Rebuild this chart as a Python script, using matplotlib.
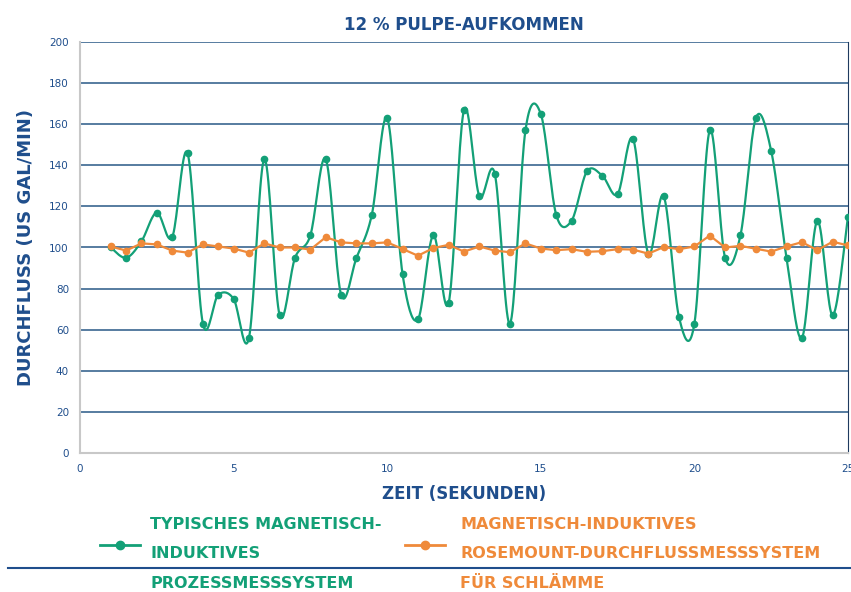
import numpy as np
import matplotlib.pyplot as plt
from matplotlib.lines import Line2D

plt.rcParams['font.family'] = ['DejaVu Sans']

# === Daten ===
zeit = np.arange(1, 25.5, 0.5)

typisch = [100, 95, 103, 117, 105, 146, 63, 77, 75, 56, 143, 67, 95, 106, 143, 77, 95,
           116, 163, 87, 65, 106, 73, 167, 125, 136, 63, 157, 165, 116, 113, 137,
           135, 126, 153, 97, 125, 66, 63, 157, 95, 106, 163, 147, 95, 56, 113, 67, 115]

rosemount = [100.5, 98.5, 102, 101.5, 98.5, 97.5, 101.5, 100.5, 99.5, 97.5, 102, 100, 100,
             99, 105, 102.5, 102, 102, 102.5, 99.3, 96, 99.7, 101.3, 98, 100.5, 98.5, 97.7,
             102, 99.5, 98.7, 99.2, 97.9, 98.2, 99.2, 99, 97, 100.2, 99.2, 100.5, 105.8,
             100, 100.8, 99.4, 98, 100.5, 102.6, 98.7, 102.8, 101]

gruen = '#13a077'
orange = '#ef8a3a'
blau = '#1f4e8c'


def glatt(x, y, n=20):
    # Bezier-Glaettung wie bei Excel (Catmull-Rom)
    x = np.asarray(x, float)
    y = np.asarray(y, float)
    xs, ys = [], []
    for i in range(len(x) - 1):
        p0 = np.array([x[max(i - 1, 0)], y[max(i - 1, 0)]])
        p1 = np.array([x[i], y[i]])
        p2 = np.array([x[i + 1], y[i + 1]])
        p3 = np.array([x[min(i + 2, len(x) - 1)], y[min(i + 2, len(x) - 1)]])
        c1 = p1 + (p2 - p0) / 6
        c2 = p2 - (p3 - p1) / 6
        t = np.linspace(0, 1, n)[:, None]
        b = (1 - t) ** 3 * p1 + 3 * (1 - t) ** 2 * t * c1 + 3 * (1 - t) * t ** 2 * c2 + t ** 3 * p2
        xs.extend(b[:, 0])
        ys.extend(b[:, 1])
    return xs, ys


fig = plt.figure(figsize=(8.51, 5.92), dpi=100)
ax = fig.add_axes([80 / 851, 1 - 453 / 592, 768 / 851, 411 / 592])

for v in range(20, 201, 20):
    ax.axhline(v, color='#3a6690', lw=1.2, zorder=1)

gx, gy = glatt(zeit, typisch)
ax.plot(gx, gy, color=gruen, lw=1.6, zorder=3)
ax.plot(zeit, typisch, 'o', color=gruen, ms=4.5, zorder=4)
ax.plot(zeit, rosemount, '-o', color=orange, lw=1.6, ms=4.5, zorder=5)

ax.set_xlim(0, 25)
ax.set_ylim(0, 200)
ax.set_xticks(range(0, 26, 5))
ax.set_yticks(range(0, 201, 20))
ax.tick_params(length=0, labelsize=7.5, labelcolor=blau, pad=8)
ax.spines['top'].set_visible(False)
ax.spines['left'].set_color('#c8c8c8')
ax.spines['left'].set_linewidth(1.5)
ax.spines['bottom'].set_color('#c8c8c8')
ax.spines['bottom'].set_linewidth(1.5)
ax.spines['right'].set_color('#1f3a5f')

ax.set_title('12 % PULPE-AUFKOMMEN', fontsize=12, fontweight='bold', color=blau, pad=9)
ax.set_xlabel('ZEIT (SEKUNDEN)', fontsize=12, fontweight='bold', color=blau, labelpad=8)
ax.set_ylabel('DURCHFLUSS (US GAL/MIN)', fontsize=13, fontweight='bold', color=blau, labelpad=10)

# === Legende ===
fig.add_artist(Line2D([100 / 851, 120 / 851, 140 / 851], [1 - 545 / 592] * 3, color=gruen, lw=2,
                      marker='o', markevery=[1], ms=6))
fig.add_artist(Line2D([405 / 851, 425 / 851, 445 / 851], [1 - 545 / 592] * 3, color=orange, lw=2,
                      marker='o', markevery=[1], ms=6))
fig.text(150 / 851, 1 - 517 / 592, 'TYPISCHES MAGNETISCH-\nINDUKTIVES\nPROZESSMESSSYSTEM',
         color=gruen, fontsize=11.5, fontweight='bold', va='top', linespacing=2.2)
fig.text(460 / 851, 1 - 517 / 592, 'MAGNETISCH-INDUKTIVES\nROSEMOUNT-DURCHFLUSSMESSSYSTEM\nFÜR SCHLÄMME',
         color=orange, fontsize=11.5, fontweight='bold', va='top', linespacing=2.2)
fig.add_artist(Line2D([8 / 851, 1], [1 - 568 / 592] * 2, color='#1f4e8c', lw=1.5))

fig.savefig('out.png', dpi=100)
